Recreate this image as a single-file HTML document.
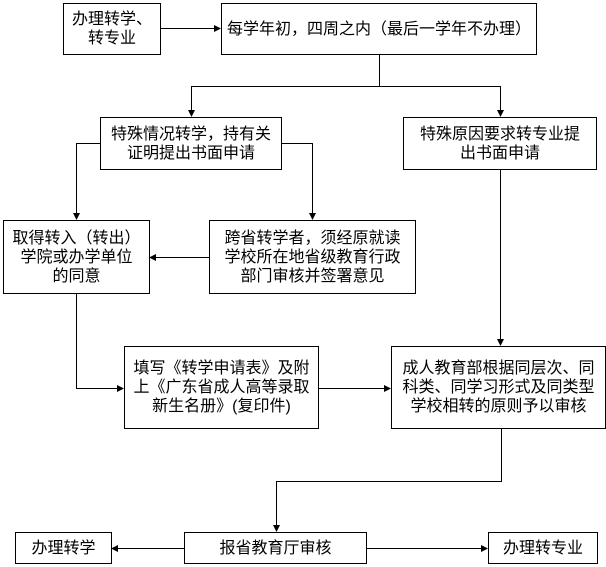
<!DOCTYPE html>
<html><head><meta charset="utf-8"><style>
html,body{margin:0;padding:0;background:#fff;}
body{width:606px;height:567px;position:relative;overflow:hidden;font-family:"Liberation Sans","Noto Sans CJK SC",sans-serif;font-size:16px;color:#000;}
.b{position:absolute;box-sizing:border-box;border:1px solid #000;display:flex;align-items:center;justify-content:center;text-align:center;line-height:19px;background:#fff;white-space:nowrap;}
svg{position:absolute;left:0;top:0;}
</style></head><body>
<svg width="606" height="567" viewBox="0 0 606 567">
<defs><marker id="a" markerWidth="7" markerHeight="7" refX="6" refY="3.5" orient="auto" markerUnits="userSpaceOnUse"><path d="M0,0 L7,3.5 L0,7 z" fill="#000"/></marker></defs>
<g stroke="#000" stroke-width="1" fill="none">
<path d="M160,28.5 H220" marker-end="url(#a)"/>
<path d="M379.5,54 V86.5 H191.5 V116" marker-end="url(#a)"/>
<path d="M379.5,86.5 H500.5 V116" marker-end="url(#a)"/>
<path d="M100,143.5 H76.5 V219" marker-end="url(#a)"/>
<path d="M281,143.5 H312.5 V219" marker-end="url(#a)"/>
<path d="M209,257.5 H150" marker-end="url(#a)"/>
<path d="M500.5,169 V345" marker-end="url(#a)"/>
<path d="M76.5,293 V388.5 H123" marker-end="url(#a)"/>
<path d="M318,388.5 H390" marker-end="url(#a)"/>
<path d="M501.5,428 V481.5 H276.5 V531" marker-end="url(#a)"/>
<path d="M184,548.5 H112" marker-end="url(#a)"/>
<path d="M366,548.5 H487" marker-end="url(#a)"/>
</g></svg>
<div class="b" style="left:63px;top:3px;width:98px;height:52px;">办理转学、<br>转专业</div>
<div class="b" style="left:221px;top:3px;width:316px;height:52px;">每学年初，四周之内（最后一学年不办理）</div>
<div class="b" style="left:100px;top:117px;width:182px;height:53px;">特殊情况转学，持有关<br>证明提出书面申请</div>
<div class="b" style="left:403px;top:117px;width:194px;height:53px;">特殊原因要求转专业提<br>出书面申请</div>
<div class="b" style="left:3px;top:220px;width:147px;height:74px;">取得转入（转出）<br>学院或办学单位<br>的同意</div>
<div class="b" style="left:209px;top:220px;width:207px;height:74px;">跨省转学者，须经原就读<br>学校所在地省级教育行政<br>部门审核并签署意见</div>
<div class="b" style="left:124px;top:346px;width:195px;height:83px;">填写《转学申请表》及附<br>上《广东省成人高等录取<br>新生名册》(复印件)</div>
<div class="b" style="left:391px;top:346px;width:215px;height:83px;">成人教育部根据同层次、同<br>科类、同学习形式及同类型<br>学校相转的原则予以审核</div>
<div class="b" style="left:15px;top:532px;width:97px;height:32px;">办理转学</div>
<div class="b" style="left:184px;top:532px;width:183px;height:32px;">报省教育厅审核</div>
<div class="b" style="left:488px;top:532px;width:110px;height:32px;">办理转专业</div>
</body></html>
